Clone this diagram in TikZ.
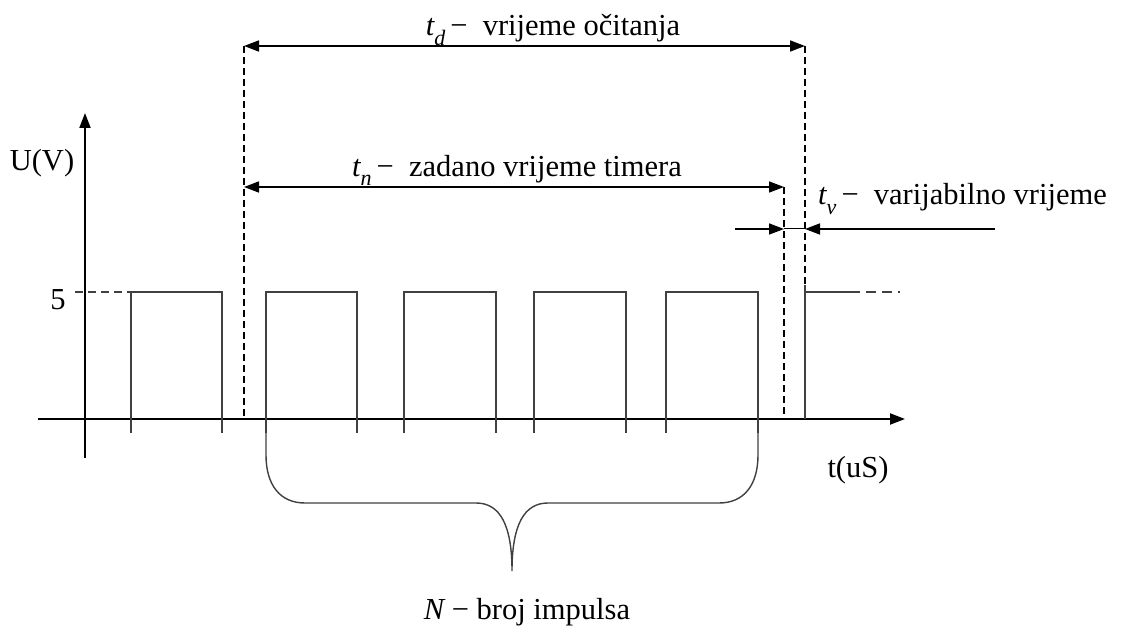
\documentclass[tikz,border=0pt]{standalone}
\usepackage{fontspec}
\setmainfont{Liberation Serif}
\usetikzlibrary{arrows.meta}
\newcommand{\tsub}[1]{{\itshape t}\raisebox{-0.3em}{\fontsize{22}{22}\selectfont\itshape #1}}
\begin{document}
\begin{tikzpicture}[x=1pt,y=-1pt,
  axis/.style={line width=2pt,black},
  sig/.style={line width=1.4pt,black!75},
  guide/.style={line width=1.6pt,black,dash pattern=on 7pt off 4pt},
  tipstyle/.style={-{Triangle[length=15pt,width=11pt]}},
  dim/.style={line width=1.6pt,{Triangle[length=15pt,width=11pt]}-{Triangle[length=15pt,width=11pt]}},
  lbl/.style={font=\fontsize{30.5}{36}\selectfont, inner sep=0pt}]
\useasboundingbox (0,0) rectangle (1124,628);
% axes
\coordinate (xs) at (38,419);
\coordinate (xe) at (905,419);
\coordinate (ys) at (85,458);
\coordinate (ye) at (85,113);
\draw[axis,tipstyle] (xs) -- (xe);
\draw[axis,tipstyle] (ys) -- (ye);
% level 5 guide
\coordinate (fiveL) at (75,292);
\coordinate (fiveR) at (131,292);
\draw[sig,dash pattern=on 8pt off 5pt] (fiveL) -- (fiveR);
% pulses
\foreach \a/\b in {131/222,266/357,404/496,534/626,666/758}
  \draw[sig] (\a,433) -- (\a,292) -- (\b,292) -- (\b,433);
% last partial pulse
\draw[sig] (805,419) -- (805,285);
\draw[sig] (805,292) -- (850,292);
\draw[sig,dash pattern=on 10pt off 6pt] (850,292) -- (900,292);
% brace
\draw[sig] (266,423) -- (266,455) .. controls (266,485) and (280,503) .. (305,503)
  -- (476,503) .. controls (500,503) and (512,525) .. (512,571)
  .. controls (512,525) and (524,503) .. (548,503)
  -- (719,503) .. controls (744,503) and (758,485) .. (758,455) -- (758,423);
% guides
\coordinate (tdL) at (244,46);
\coordinate (tdR) at (805,46);
\coordinate (tnL) at (244,187);
\coordinate (tnR) at (784,187);
\draw[guide] (tdL) -- (244,419);
\draw[guide] (tdR) -- (805,285);
\draw[guide] (tnR) -- (784,419);
% dimension arrows
\draw[dim] (tdL) -- (tdR);
\draw[dim] (tnL) -- (tnR);
\coordinate (tvA) at (735,229);
\coordinate (tvB) at (784,229);
\coordinate (tvC) at (805,229);
\coordinate (tvD) at (995,229);
\draw[line width=1.6pt,tipstyle] (tvA) -- (tvB);
\draw[line width=1.6pt,tipstyle] (tvD) -- (tvC);
\draw[line width=1pt] (tvB) -- (tvC);
% labels
\node[lbl] (uv) at (42,163) {U(V)};
\node[lbl] (five) at (58,300) {5};
\node[lbl] (tus) at (858,470) {t(uS)};
\node[lbl] (td) at (553,30) {\tsub{d}\,−\enspace vrijeme očitanja};
\node[lbl] (tn) at (517,170) {\tsub{n}\,−\enspace zadano vrijeme timera};
\node[lbl,anchor=west] (tv) at (818,199) {\tsub{v}\,−\enspace varijabilno vrijeme};
\node[lbl] (N) at (527,612) {{\itshape N} − broj impulsa};
\end{tikzpicture}
\end{document}
